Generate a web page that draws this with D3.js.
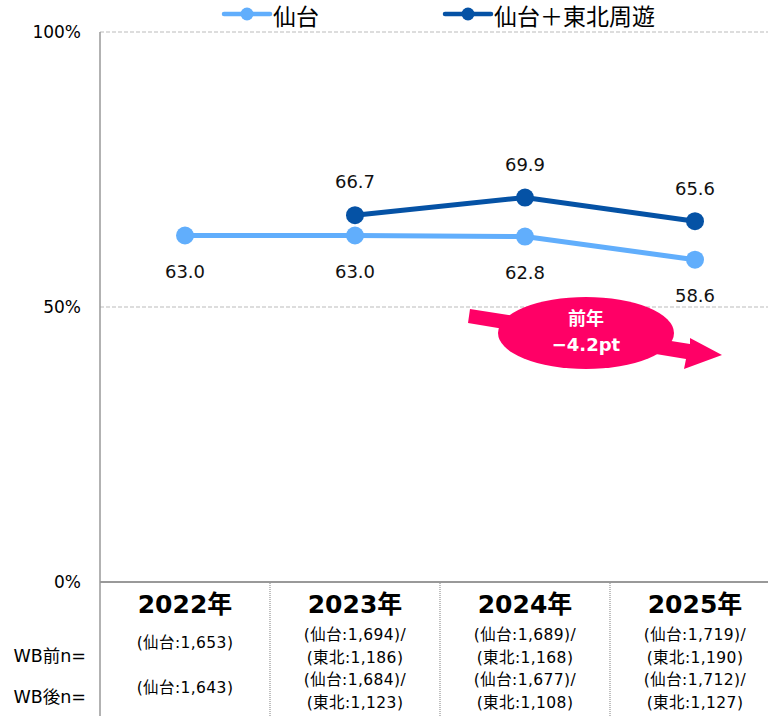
<!DOCTYPE html>
<html><head><meta charset="utf-8">
<script src="https://cdn.jsdelivr.net/npm/d3@7"></script>
<style>body{margin:0;background:#fff}svg{display:block}text{font-family:"DejaVu Sans",Verdana,"Noto Sans CJK JP",sans-serif}</style>
</head><body>
<script>
const years = ["2022年","2023年","2024年","2025年"];
const sendai = [63.0, 63.0, 62.8, 58.6];
const sendaiTohoku = [null, 66.7, 69.9, 65.6];
const seriesNames = ["仙台","仙台＋東北周遊"];
const yTicks = [0, 50, 100];
const nBefore = [["(仙台:1,653)"],["(仙台:1,694)/","(東北:1,186)"],["(仙台:1,689)/","(東北:1,168)"],["(仙台:1,719)/","(東北:1,190)"]];
const nAfter = [["(仙台:1,643)"],["(仙台:1,684)/","(東北:1,123)"],["(仙台:1,677)/","(東北:1,108)"],["(仙台:1,712)/","(東北:1,127)"]];
const rowLabels = ["WB前n=","WB後n="];
const callout = ["前年","−4.2pt"];

const W=768,H=716;
const svg=d3.select("body").append("svg").attr("width",W).attr("height",H);
const colLight="#61aefc", colDark="#0552a5", pink="#ff0066";

const x=d3.scaleBand().domain(years).range([100,780]).padding(0);
const y=d3.scaleLinear().domain([0,100]).range([582,32]);
const cx=d=>x(d)+x.bandwidth()/2;

// gridlines
svg.append("g").selectAll("line").data([50,100]).join("line")
  .attr("x1",100).attr("x2",W).attr("y1",d=>y(d)).attr("y2",d=>y(d))
  .attr("stroke","#bbb").attr("stroke-width",1).attr("stroke-dasharray","4,2");
// y tick labels
svg.append("g").selectAll("text").data(yTicks).join("text")
  .attr("x",81).attr("y",d=>y(d)).attr("dy","0.35em").attr("text-anchor","end")
  .attr("font-size",17).attr("fill","#000").text(d=>d+"%");
// axes
svg.append("line").attr("x1",100).attr("x2",W).attr("y1",y(0)).attr("y2",y(0)).attr("stroke","#999").attr("stroke-width",2);
svg.append("line").attr("x1",100).attr("x2",100).attr("y1",y(100)).attr("y2",H).attr("stroke","#999").attr("stroke-width",1.5);
// table separators
svg.append("g").selectAll("line").data(years.slice(1)).join("line")
  .attr("x1",d=>x(d)).attr("x2",d=>x(d)).attr("y1",y(0)+1).attr("y2",H)
  .attr("stroke","#aaa").attr("stroke-width",1.5).attr("stroke-dasharray","1,1");

// callout arrow
const ar=svg.append("g");
ar.append("path").attr("d","M470,309 L690,344 L690,338 L722,355 L684,369 L686,359 L468,323 Z").attr("fill",pink);
ar.append("ellipse").attr("cx",586).attr("cy",333).attr("rx",88).attr("ry",36).attr("fill",pink);
ar.append("text").attr("x",586).attr("y",325).attr("text-anchor","middle").attr("font-size",18).attr("font-weight","bold").attr("fill","#fff").text(callout[0]);
ar.append("text").attr("x",586).attr("y",351).attr("text-anchor","middle").attr("font-size",18).attr("font-weight","bold").attr("fill","#fff").text(callout[1]);

// lines
const line=d3.line().defined(d=>d.v!=null).x(d=>cx(d.k)).y(d=>y(d.v));
function draw(vals,col,labelOff){
  const data=years.map((k,i)=>({k,v:vals[i]}));
  svg.append("path").datum(data).attr("d",line).attr("fill","none").attr("stroke",col).attr("stroke-width",5);
  const f=data.filter(d=>d.v!=null);
  svg.append("g").selectAll("circle").data(f).join("circle").attr("cx",d=>cx(d.k)).attr("cy",d=>y(d.v)).attr("r",9).attr("fill",col);
  svg.append("g").selectAll("text").data(f).join("text").attr("x",d=>cx(d.k)).attr("y",d=>y(d.v)+labelOff).attr("dy","0.35em")
    .attr("text-anchor","middle").attr("font-size",18).attr("fill","#111").text(d=>d.v.toFixed(1));
}
draw(sendai,colLight,36);
draw(sendaiTohoku,colDark,-33);

// legend
const lg=[{n:seriesNames[0],c:colLight,x:222},{n:seriesNames[1],c:colDark,x:443}];
const g=svg.append("g").selectAll("g").data(lg).join("g").attr("transform",d=>`translate(${d.x},14)`);
g.append("line").attr("x1",2).attr("x2",48).attr("stroke",d=>d.c).attr("stroke-width",4.5).attr("stroke-linecap","round");
g.append("circle").attr("cx",25).attr("r",6.5).attr("fill",d=>d.c);
g.append("text").attr("x",51).attr("y",3).attr("dy","0.36em").attr("font-size",23).attr("fill","#000").text(d=>d.n);

// table
svg.append("g").selectAll("text").data(years).join("text").attr("x",cx).attr("y",613)
  .attr("text-anchor","middle").attr("font-size",25).attr("font-weight","bold").attr("fill","#000").text(d=>d);
function rows(arr,yc){
  years.forEach((k,i)=>{
    const ls=arr[i];
    ls.forEach((t,j)=>{
      const yy= ls.length===1? yc : yc + 3 + (j===0?-11.5:11.5);
      svg.append("text").attr("x",cx(k)).attr("y",yy).attr("dy","0.35em").attr("text-anchor","middle")
        .attr("font-size",15.5).attr("letter-spacing",0.4).attr("fill","#000").text(t);
    });
  });
}
rows(nBefore,643);
rows(nAfter,688);
svg.append("g").selectAll("text").data(rowLabels).join("text").attr("x",86).attr("y",(d,i)=>i?697:656).attr("dy","0.35em")
  .attr("text-anchor","end").attr("font-size",17.5).attr("fill","#000").text(d=>d);
</script>
</body></html>
